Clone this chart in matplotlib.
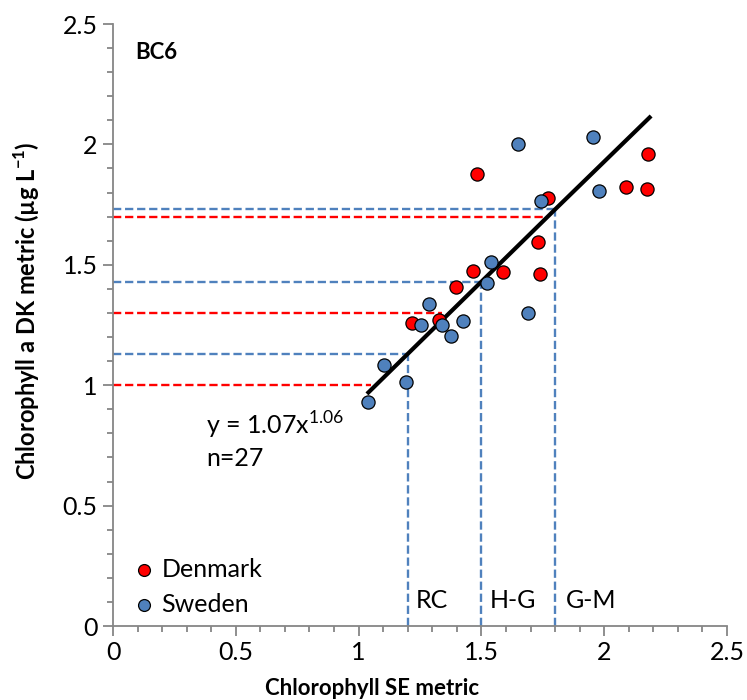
import matplotlib
matplotlib.use("Agg")
import matplotlib.pyplot as plt
import matplotlib.ticker as ticker

# Data
dk_x = [1.482, 2.178, 2.087, 2.173, 1.770, 1.732, 1.739, 1.465, 1.587, 1.398, 1.217, 1.326]
dk_y = [1.877, 1.960, 1.822, 1.816, 1.776, 1.596, 1.462, 1.476, 1.471, 1.407, 1.260, 1.271]

se_x = [1.650, 1.954, 1.980, 1.741, 1.538, 1.521, 1.285, 1.253, 1.338, 1.424, 1.378, 1.688,
        1.103, 1.194, 1.040]
se_y = [2.002, 2.029, 1.806, 1.765, 1.510, 1.423, 1.336, 1.249, 1.249, 1.268, 1.206, 1.300,
        1.083, 1.015, 0.929]

fit_x = [1.04, 1.2, 1.5, 1.8, 2.185]
fit_y = [0.97, 1.13, 1.43, 1.73, 2.112]

# class boundaries
se_bounds = [1.2, 1.5, 1.8]
se_bound_dk = [1.13, 1.43, 1.73]
dk_bounds = [1.0, 1.3, 1.7]
dk_bound_ends = [1.05, 1.34, 1.76]
class_labels = ["RC", "H-G", "G-M"]
class_label_x = [1.233, 1.535, 1.845]

RED = "#FF0000"
BLUE = "#4F81BD"
GREY = "#868686"
FONT = "Lato"

fig = plt.figure(figsize=(7.47, 7.0), dpi=100)
ax = fig.add_axes([0.1513, 0.1057, 0.8219, 0.86])

for y, xe in zip(dk_bounds, dk_bound_ends):
    ax.plot([0, xe], [y, y], color=RED, lw=1.7, dashes=(3.5, 1.6), zorder=1)
for x, y in zip(se_bounds, se_bound_dk):
    ax.plot([0, x], [y, y], color=BLUE, lw=1.7, dashes=(3.5, 1.6), zorder=1)
    ax.plot([x, x], [0, y], color=BLUE, lw=1.7, dashes=(3.5, 1.6), zorder=1)

ax.plot(fit_x, fit_y, color="black", lw=3, zorder=2)

ax.scatter(dk_x, dk_y, s=90, color=RED, edgecolor="black", linewidth=0.9, zorder=3, label="Denmark")
ax.scatter(se_x, se_y, s=90, color=BLUE, edgecolor="black", linewidth=0.9, zorder=3, label="Sweden")

ax.set_xlim(0, 2.5)
ax.set_ylim(0, 2.5)
ax.xaxis.set_major_locator(ticker.MultipleLocator(0.5))
ax.xaxis.set_minor_locator(ticker.MultipleLocator(0.1))
ax.yaxis.set_major_locator(ticker.MultipleLocator(0.5))
ax.yaxis.set_minor_locator(ticker.MultipleLocator(0.1))
ax.xaxis.set_major_formatter(ticker.FuncFormatter(lambda v, p: f"{v:g}"))
ax.yaxis.set_major_formatter(ticker.FuncFormatter(lambda v, p: f"{v:g}"))

for side in ["top", "right"]:
    ax.spines[side].set_visible(False)
for side in ["left", "bottom"]:
    ax.spines[side].set_color(GREY)
    ax.spines[side].set_linewidth(1.3)
ax.tick_params(which="major", direction="out", length=7, width=1.3, color=GREY,
               labelsize=18, pad=4)
ax.tick_params(which="minor", direction="out", length=4, width=1.3, color=GREY)
for lab in ax.get_xticklabels() + ax.get_yticklabels():
    lab.set_fontfamily(FONT)

ax.text(0.09, 2.38, "BC6", fontsize=16, fontweight="bold", family=FONT, va="center")
ax.text(0.38, 0.835, r"y = 1.07x$^{\mathregular{1.06}}$", fontsize=18, family=FONT, va="center")
ax.text(0.38, 0.695, "n=27", fontsize=18, family=FONT, va="center")

for x, t in zip(class_label_x, class_labels):
    ax.text(x, 0.105, t, fontsize=18, family=FONT, va="center")

leg = ax.legend(loc="lower left", bbox_to_anchor=(0.014, 0.0), frameon=False,
                handlelength=1.0, handletextpad=0.2, borderaxespad=0, labelspacing=0.5,
                prop={"family": FONT, "size": 18}, markerscale=0.9)

fig.text(0.498, 0.017, "Chlorophyll SE metric", fontsize=16, fontweight="bold",
         family=FONT, ha="center", va="center")
fig.text(0.036, 0.556, "Chlorophyll a DK metric (µg L$^{\\mathregular{-1}}$)", fontsize=17,
         fontweight="bold", family=FONT, ha="center", va="center", rotation=90)

fig.savefig("out.png", dpi=100)
